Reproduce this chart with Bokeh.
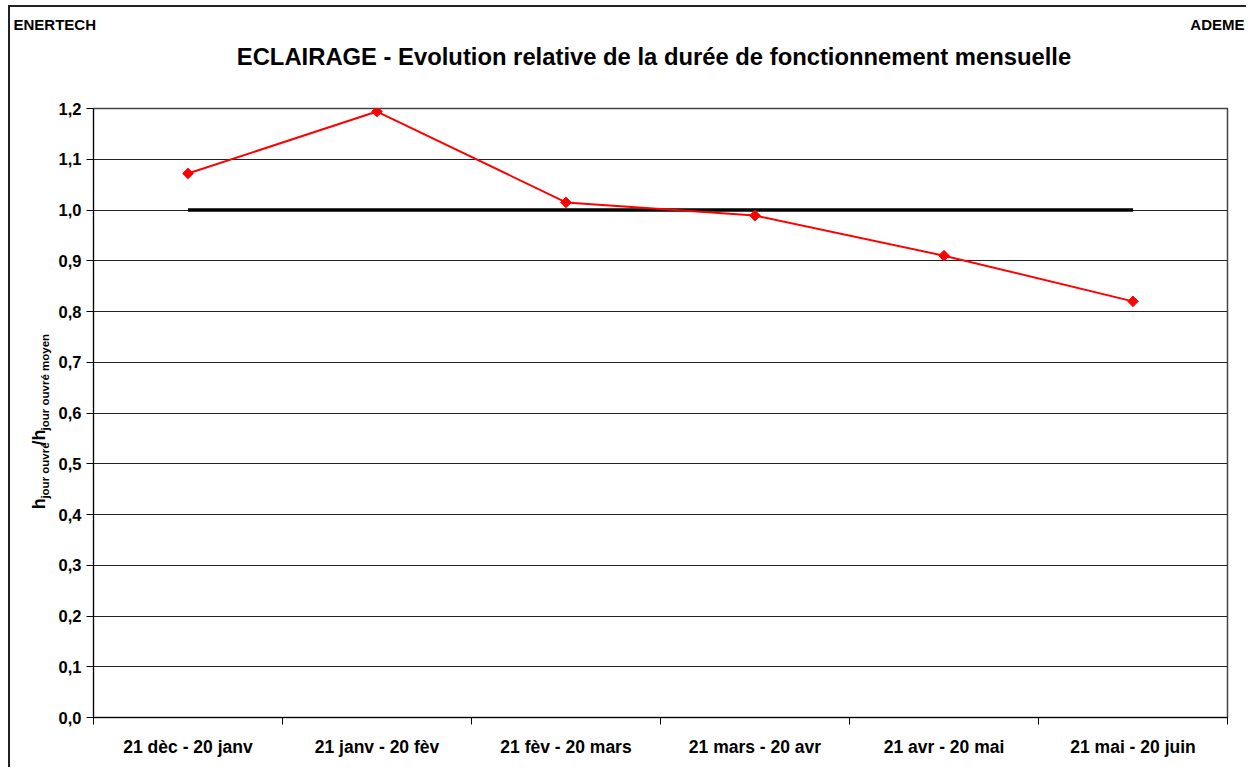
import math
from bokeh.plotting import figure
from bokeh.layouts import column, row
from bokeh.models import Range1d, FixedTicker, CustomJSTickFormatter
from bokeh.core.properties import value
from bokeh.embed import file_html
from bokeh.resources import INLINE

# ---- data ----
categories = ["21 dèc - 20 janv", "21 janv - 20 fèv", "21 fèv - 20 mars",
              "21 mars - 20 avr", "21 avr - 20 mai", "21 mai - 20 juin"]
ratio = [1.072, 1.194, 1.015, 0.989, 0.910, 0.820]
reference = [1.0, 1.0, 1.0, 1.0, 1.0, 1.0]
y_ticks = [0.0, 0.1, 0.2, 0.3, 0.4, 0.5, 0.6, 0.7, 0.8, 0.9, 1.0, 1.1, 1.2]
y_tick_labels = ["0,0", "0,1", "0,2", "0,3", "0,4", "0,5", "0,6",
                 "0,7", "0,8", "0,9", "1,0", "1,1", "1,2"]
title_text = "ECLAIRAGE - Evolution relative de la durée de fonctionnement mensuelle"
left_note = "ENERTECH"
right_note = "ADEME"
ylabel_parts = ["h", "jour ouvré", "/h", "jour ouvré moyen"]

FONT = "Liberation Sans"
LOOKUP = ("for (let i = 0; i < tv.length; i++) {"
          " if (Math.abs(tv[i] - tick) < 1e-9) { return lbl[i]; } }"
          " return '';")

xs = [i + 0.5 for i in range(len(categories))]
boundaries = list(range(len(categories) + 1))

TOTAL_W = 1236
HEAD_H = 70
YLAB_W = 45
BODY_H = 690


def blank_fig(w, h):
    f = figure(width=w, height=h, x_range=Range1d(0, w), y_range=Range1d(0, h),
               x_axis_type=None, y_axis_type=None, output_backend="svg",
               toolbar_location=None, min_border=0)
    f.grid.visible = False
    f.outline_line_color = None
    f.background_fill_color = "white"
    f.border_fill_color = "white"
    return f


# ---- header: notes and title ----
head = blank_fig(TOTAL_W, HEAD_H)
head.text(x=[3], y=[53], text=[left_note], text_align="left", text_baseline="alphabetic",
          text_font=value(FONT), text_font_style="bold", text_font_size="15px",
          text_color="black")
head.text(x=[1234], y=[53], text=[right_note], text_align="right", text_baseline="alphabetic",
          text_font=value(FONT), text_font_style="bold", text_font_size="15px",
          text_color="black")
head.text(x=[643.5], y=[21], text=[title_text], text_align="center",
          text_baseline="alphabetic", text_font=value(FONT), text_font_style="bold",
          text_font_size="23.8px", text_color="black")

# ---- y-axis title with subscripts ----
ylab = blank_fig(YLAB_W, BODY_H)
main_size, sub_size = 18, 11.5
em = {"h": 0.611, "/h": 0.889, "jour ouvré": 4.89, "jour ouvré moyen": 8.39}
gap = {"h": 1, "jour ouvré": 4, "/h": 1, "jour ouvré moyen": 0}
ypos = 236
for i, part in enumerate(ylabel_parts):
    is_sub = (i % 2 == 1)
    size = sub_size if is_sub else main_size
    ylab.text(x=[34 if is_sub else 28], y=[ypos], text=[part], angle=math.pi / 2,
              text_align="left", text_baseline="middle", text_font=value(FONT),
              text_font_style="bold", text_font_size=f"{size}px", text_color="black")
    ypos += em[part] * size + gap[part]

# ---- main chart ----
p = figure(width=TOTAL_W - YLAB_W, height=BODY_H,
           x_range=Range1d(0, len(categories)), y_range=Range1d(0, 1.2),
           output_backend="svg", toolbar_location=None,
           min_border_left=38, min_border_right=19,
           min_border_top=31, min_border_bottom=50)
p.background_fill_color = "white"
p.border_fill_color = "white"
p.outline_line_color = "#444"
p.outline_line_width = 1.5

p.yaxis.ticker = FixedTicker(ticks=y_ticks, minor_ticks=[])
p.yaxis.formatter = CustomJSTickFormatter(args=dict(tv=y_ticks, lbl=y_tick_labels), code=LOOKUP)
p.yaxis.major_tick_out = 7
p.yaxis.major_tick_in = 0
p.yaxis.major_tick_line_color = "black"
p.yaxis.axis_line_color = "black"
p.yaxis.major_label_standoff = 5
p.yaxis.major_label_text_font = FONT
p.yaxis.major_label_text_font_style = "bold"
p.yaxis.major_label_text_font_size = "16.5px"
p.yaxis.major_label_text_color = "black"

p.xaxis.ticker = FixedTicker(ticks=xs, minor_ticks=boundaries)
p.xaxis.formatter = CustomJSTickFormatter(args=dict(tv=xs, lbl=categories), code=LOOKUP)
p.xaxis.major_tick_line_color = None
p.xaxis.major_tick_out = 0
p.xaxis.major_tick_in = 0
p.xaxis.minor_tick_out = 7
p.xaxis.minor_tick_in = 0
p.xaxis.minor_tick_line_color = "black"
p.xaxis.axis_line_color = "black"
p.xaxis.major_label_standoff = 12
p.xaxis.major_label_text_font = FONT
p.xaxis.major_label_text_font_style = "bold"
p.xaxis.major_label_text_font_size = "17.5px"
p.xaxis.major_label_text_color = "black"

p.xgrid.grid_line_color = None
p.ygrid.ticker = FixedTicker(ticks=y_ticks, minor_ticks=[])
p.ygrid.grid_line_color = "#222"
p.ygrid.grid_line_width = 1

p.line(xs, reference, color="black", line_width=3.5)
p.line(xs, ratio, color="red", line_width=2)
p.scatter(xs, ratio, marker="square", angle=math.pi / 4, size=7.5, color="red")

layout = column(head, row(ylab, p),
                styles={"border-left": "2px solid #222", "border-top": "2px solid #222",
                        "margin-left": "8px", "margin-top": "5px"})

open("out.html", "w").write(file_html(layout, INLINE))
